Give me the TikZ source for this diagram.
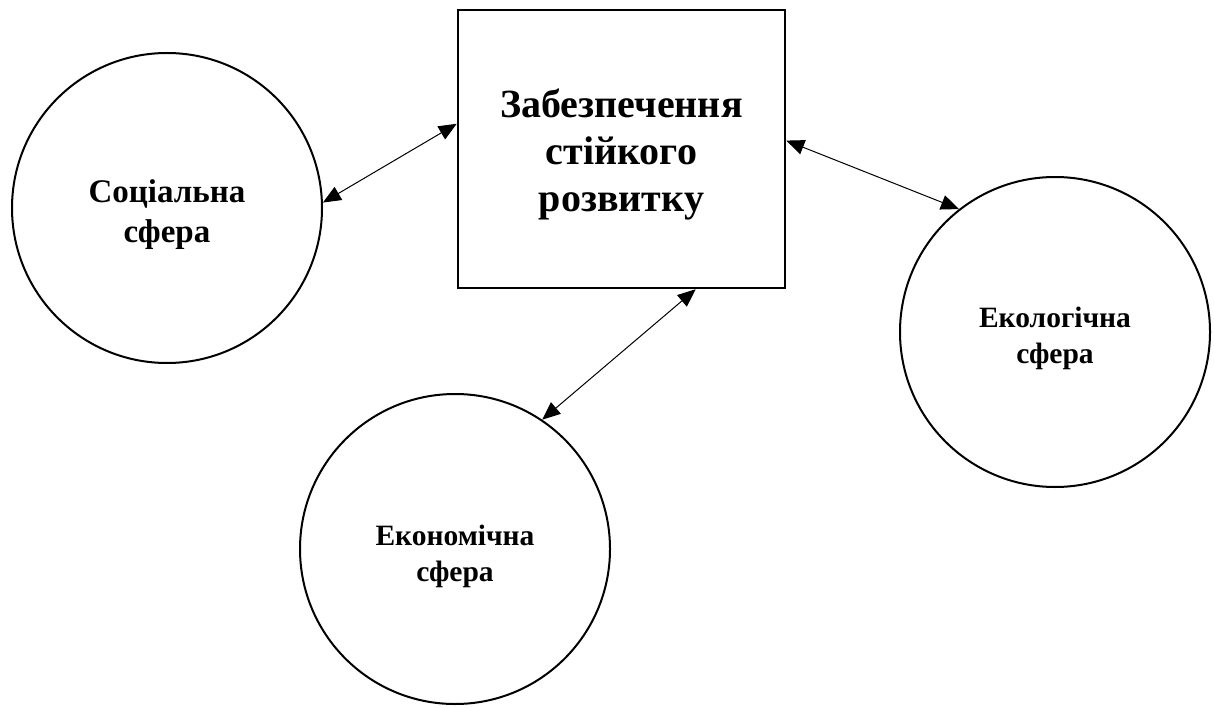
\documentclass[tikz,border=0pt]{standalone}
\usepackage{fontspec}
\setmainfont{Liberation Serif}
\usetikzlibrary{arrows.meta,calc}
\begin{document}
\begin{tikzpicture}[x=1pt,y=-1pt,
  sphere/.style={circle,draw,line width=2pt,minimum size=310pt,inner sep=0pt},
  spheretext/.style={align=center,inner sep=0pt},
  mainbox/.style={draw,line width=2.5pt,minimum width=327pt,minimum height=278pt,inner sep=0pt},
  maintext/.style={align=center,inner sep=0pt,font=\fontsize{40}{47}\selectfont\bfseries},
  link/.style={line width=1pt,{Triangle[length=18pt,width=15pt]}-{Triangle[length=18pt,width=15pt]}}]
\useasboundingbox (0,0) rectangle (1214,708);
\node[mainbox,label={[maintext,yshift=-6pt]center:Забезпечення\\стійкого\\розвитку}] (main) at (621.5,149) {};
\node[sphere,label={[spheretext,yshift=-7pt,font=\fontsize{33}{40}\selectfont\bfseries]center:Соціальна\\сфера}] (soc) at (167,208) {};
\node[sphere,label={[spheretext,yshift=-6pt,font=\fontsize{29.5}{36}\selectfont\bfseries]center:Екологічна\\сфера}] (eco) at (1055,332) {};
\node[sphere,label={[spheretext,yshift=-7pt,font=\fontsize{29.5}{36}\selectfont\bfseries]center:Економічна\\сфера}] (econ) at (455,549) {};
\draw[link] (soc.2) -- ($(main.north west)!0.41!(main.south west)$);
\draw[link] ($(main.north east)!0.47!(main.south east)$) -- (eco.128);
\draw[link] ($(main.south west)!0.725!(main.south east)$) -- (econ.56);
\end{tikzpicture}
\end{document}
